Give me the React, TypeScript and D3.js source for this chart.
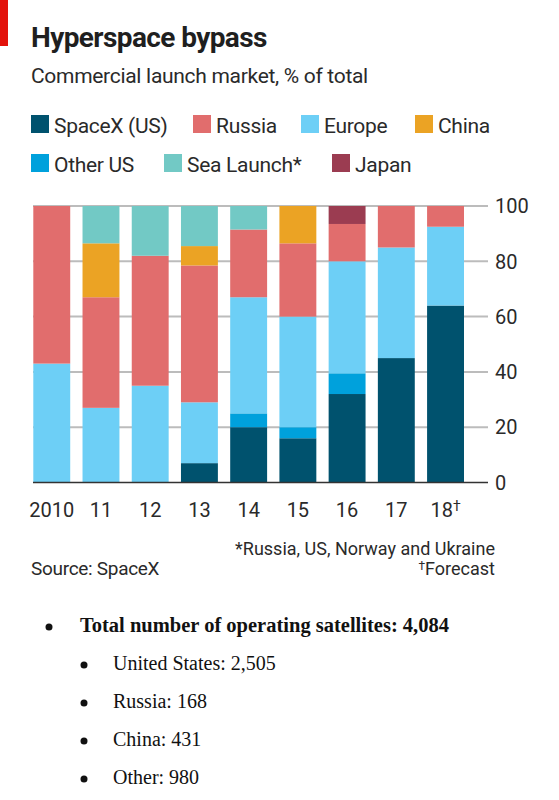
import React from "react";
import * as d3 from "d3";

const years = ["2010", "11", "12", "13", "14", "15", "16", "17", "18"];
const seriesKeys = ["SpaceX (US)", "Other US", "Europe", "Russia", "China", "Sea Launch*", "Japan"];
const spacex = [0, 0, 0, 7, 20, 16, 32, 45, 64];
const otherUS = [0, 0, 0, 0, 5, 4, 7.5, 0, 0];
const europe = [43, 27, 35, 22, 42, 40, 40.5, 40, 28.5];
const russia = [57, 40, 47, 49.5, 24.5, 26.5, 13.5, 15, 7.5];
const china = [0, 19.5, 0, 7, 0, 13.5, 0, 0, 0];
const seaLaunch = [0, 13.5, 18, 14.5, 8.5, 0, 0, 0, 0];
const japan = [0, 0, 0, 0, 0, 0, 6.5, 0, 0];
const yTicks = [0, 20, 40, 60, 80, 100];
const legendRow1 = ["SpaceX (US)", "Russia", "Europe", "China"];
const legendRow2 = ["Other US", "Sea Launch*", "Japan"];
const subItems = ["United States: 2,505", "Russia: 168", "China: 431", "Other: 980"];
const totalItem = "Total number of operating satellites: 4,084";

const colors: Record<string, string> = {
  "SpaceX (US)": "#00526e",
  "Other US": "#00a1dc",
  Europe: "#6dcff6",
  Russia: "#e16d6d",
  China: "#eba324",
  "Sea Launch*": "#72c9c5",
  Japan: "#9b3c51",
};

const seriesValues = [spacex, otherUS, europe, russia, china, seaLaunch, japan];

const SANS = "Roboto, 'Noto Sans', sans-serif";
const SERIF = "'Liberation Serif', 'DejaVu Serif', serif";

export default function App() {
  const rows = years.map((y, i) => {
    const r: Record<string, number | string> = { year: y };
    seriesKeys.forEach((k, j) => (r[k] = seriesValues[j][i]));
    return r;
  });
  const stack = d3.stack<Record<string, number | string>>().keys(seriesKeys);
  const stacked = stack(rows as any);

  const x = d3.scaleBand<string>().domain(years).range([33.3, 464]).paddingInner(0.25).paddingOuter(0);
  const y = d3.scaleLinear().domain([0, 100]).range([482.5, 206]);

  const gridX1 = 33;
  const gridX2 = 488;

  const legendPos1 = [31, 193, 301, 415];
  const legendPos2 = [31, 164, 332];

  return (
    <svg width={559} height={800} style={{ position: "absolute", left: 0, top: 0, background: "#fff" }}>
      <rect x={0} y={0} width={8} height={46} fill="#e3120b" />
      <text x={31} y={47} fontFamily={SANS} fontWeight={700} fontSize={28} fill="#1f1f1f" letterSpacing={-0.6}>
        Hyperspace bypass
      </text>
      <text x={31} y={83} fontFamily={SANS} fontSize={21} fill="#2a2a2a" letterSpacing={-0.3}>
        Commercial launch market, % of total
      </text>

      {legendRow1.map((k, i) => (
        <g key={k}>
          <rect x={legendPos1[i]} y={115} width={18} height={18} fill={colors[k]} />
          <text x={legendPos1[i] + 23} y={133} fontFamily={SANS} fontSize={21} fill="#2a2a2a" letterSpacing={-0.3}>
            {k}
          </text>
        </g>
      ))}
      {legendRow2.map((k, i) => (
        <g key={k}>
          <rect x={legendPos2[i]} y={154} width={18} height={18} fill={colors[k]} />
          <text x={legendPos2[i] + 23} y={172} fontFamily={SANS} fontSize={21} fill="#2a2a2a" letterSpacing={-0.3}>
            {k}
          </text>
        </g>
      ))}

      {yTicks.filter((t) => t > 0).map((t) => (
        <line key={t} x1={gridX1} x2={gridX2} y1={y(t)} y2={y(t)} stroke="#bcbcbc" strokeWidth={2} />
      ))}

      {stacked.map((s) => (
        <g key={s.key} fill={colors[s.key]}>
          {s.map((d, i) =>
            d[1] - d[0] > 0 ? (
              <rect key={i} x={x(years[i])} y={y(d[1])} width={x.bandwidth()} height={y(d[0]) - y(d[1])} />
            ) : null
          )}
        </g>
      ))}

      <line x1={gridX1} x2={gridX2} y1={y(0)} y2={y(0)} stroke="#333" strokeWidth={1.5} />

      {yTicks.map((t) => (
        <text key={t} x={495} y={y(t)} dy="0.36em" fontFamily={SANS} fontSize={20} fill="#2a2a2a">
          {t}
        </text>
      ))}

      {years.map((yr) => (
        <text
          key={yr}
          x={(x(yr) as number) + x.bandwidth() / 2}
          y={517}
          textAnchor="middle"
          fontFamily={SANS}
          fontSize={20}
          fill="#2a2a2a"
        >
          {yr}
          {yr === "18" ? (
            <tspan fontSize={14} dy={-6}>†</tspan>
          ) : null}
        </text>
      ))}

      <text x={495} y={555} textAnchor="end" fontFamily={SANS} fontSize={18} fill="#2a2a2a">
        *Russia, US, Norway and Ukraine
      </text>
      <text x={495} y={575} textAnchor="end" fontFamily={SANS} fontSize={18} fill="#2a2a2a">
        <tspan fontSize={12} dy={-5}>†</tspan>
        <tspan dy={5}>Forecast</tspan>
      </text>
      <text x={31} y={575} fontFamily={SANS} fontSize={19} fill="#2a2a2a" letterSpacing={-0.3}>
        Source: SpaceX
      </text>

      <circle cx={49} cy={627} r={3.5} fill="#111" />
      <text x={80} y={632} fontFamily={SERIF} fontWeight={700} fontSize={20.5} fill="#111">
        {totalItem}
      </text>
      {subItems.map((s, i) => (
        <g key={s}>
          <circle cx={84} cy={665 + i * 38} r={3.5} fill="#111" />
          <text x={113} y={670 + i * 38} fontFamily={SERIF} fontSize={20} fill="#111">
            {s}
          </text>
        </g>
      ))}
    </svg>
  );
}
